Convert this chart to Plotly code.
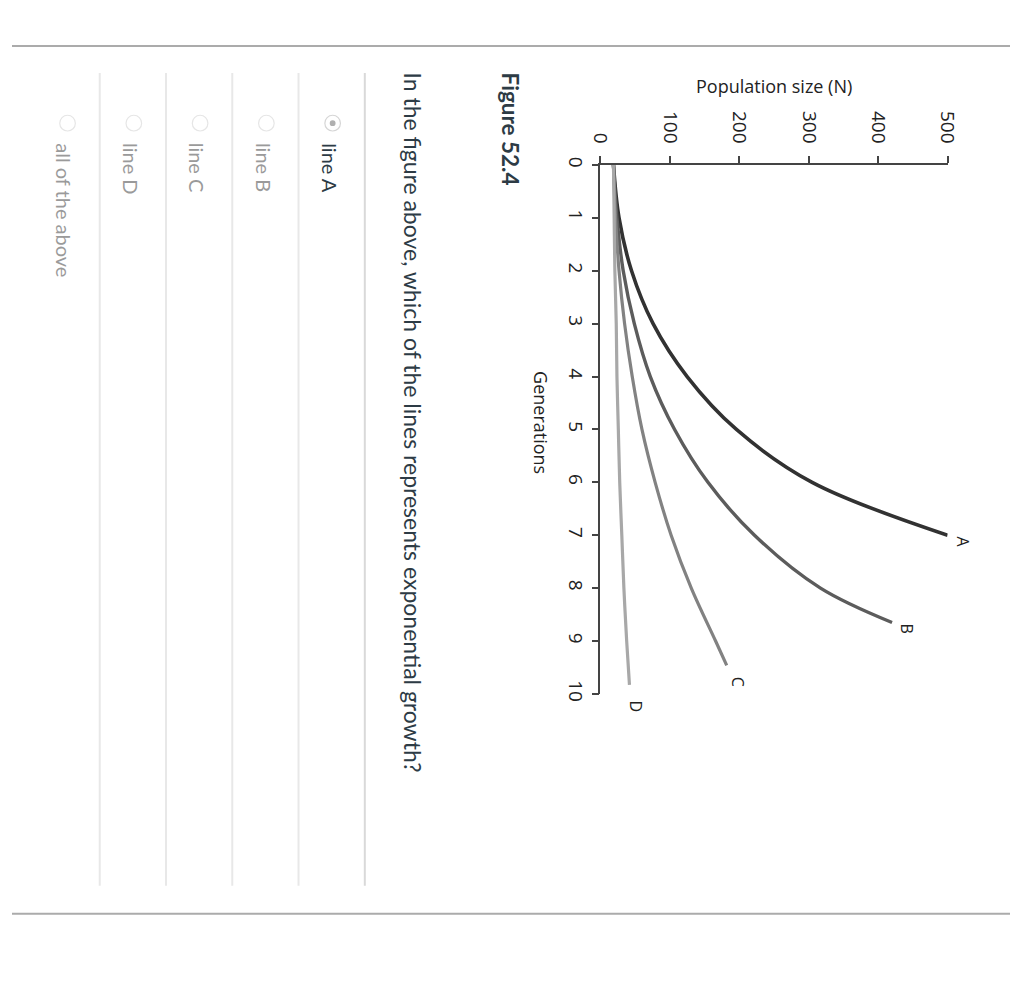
import plotly.graph_objects as go

W, H = 1024, 1006

# ---- data ----
gens_A = [0, 1, 2, 3, 4, 5, 6, 7]
pop_A = [19, 27, 45, 76, 125, 196, 305, 500]

gens_B = [0, 1, 2, 3, 4, 5, 6, 7, 8, 8.65]
pop_B = [19, 24, 33, 49, 72, 107, 155, 222, 317, 420]

gens_C = [0, 1, 2, 3, 4, 5, 6, 7, 8, 9, 9.46]
pop_C = [19, 22, 27, 35, 46, 60, 79, 102, 131, 166, 182]

gens_D = [0, 1, 2, 3, 4, 5, 6, 7, 8, 9, 9.83]
pop_D = [19, 20, 21, 23, 24, 26, 28, 31, 34, 38, 42]

series_names = ["A", "B", "C", "D"]
pop_ticks = [0, 100, 200, 300, 400, 500]
gen_ticks = [0, 1, 2, 3, 4, 5, 6, 7, 8, 9, 10]

figure_label = "Figure 52.4"
question = "In the figure above, which of the lines represents exponential growth?"
options = ["line A", "line B", "line C", "line D", "all of the above"]
selected = 0


def px(x):
    return x / W


def py(y):
    return 1 - y / H


colors = ["#323232", "#5c5c5c", "#828282", "#a8a8a8"]
widths = [3.6, 3.4, 3.2, 3.2]
label_shift = [(15, -7), (15, -6), (11, -16), (7, -22)]

fig = go.Figure()
all_series = [(gens_A, pop_A), (gens_B, pop_B), (gens_C, pop_C), (gens_D, pop_D)]
for name, (g, p), c, w in zip(series_names, all_series, colors, widths):
    fig.add_trace(go.Scatter(
        x=p, y=g, mode="lines", name=name,
        line=dict(color=c, width=w, shape="spline", smoothing=1.0),
        showlegend=False, hoverinfo="skip", cliponaxis=False,
    ))

annotations = []
for name, (g, p), (sx, sy) in zip(series_names, all_series, label_shift):
    annotations.append(dict(
        x=p[-1], y=g[-1], xref="x", yref="y", text=name, showarrow=False,
        xshift=sx, yshift=sy, textangle=90,
        font=dict(family="Open Sans", size=16, color="#222"),
    ))

chart_font = dict(family="Open Sans", size=18, color="#222")
annotations.append(dict(x=px(782), y=py(79), xref="paper", yref="paper",
                        text="Population size (N)", showarrow=False,
                        font=chart_font, xanchor="center", yanchor="middle"))
annotations.append(dict(x=px(542), y=py(421), xref="paper", yref="paper",
                        text="Generations", showarrow=False, textangle=90,
                        font=chart_font, xanchor="center", yanchor="middle"))

text_col = "#2d3b45"
annotations.append(dict(x=px(511), y=py(63), xref="paper", yref="paper",
                        text="<b>" + figure_label + "</b>", showarrow=False,
                        textangle=90, xanchor="center", yanchor="top",
                        font=dict(family="Lato", size=22.5, color=text_col)))
annotations.append(dict(x=px(411), y=py(63), xref="paper", yref="paper",
                        text=question, showarrow=False, textangle=90,
                        xanchor="center", yanchor="top",
                        font=dict(family="Lato", size=23, color=text_col)))

opt_x = [326, 258, 190, 122, 54]
for i, (t, ox) in enumerate(zip(options, opt_x)):
    annotations.append(dict(x=px(ox), y=py(135), xref="paper", yref="paper",
                            text=t, showarrow=False, textangle=90,
                            xanchor="center", yanchor="top",
                            font=dict(family="Lato", size=20,
                                      color=text_col if i == selected else "#9a9a9a")))

shapes = []
# horizontal rules
for yy in (38.5, 920.5):
    shapes.append(dict(type="line", xref="paper", yref="paper",
                       x0=0, x1=1, y0=py(yy), y1=py(yy),
                       line=dict(color="#ababab", width=2)))
# separators
sep_x = [362, 294, 226, 158, 90]
for i, sx in enumerate(sep_x):
    shapes.append(dict(type="line", xref="paper", yref="paper",
                       x0=px(sx), x1=px(sx), y0=py(66), y1=py(892),
                       line=dict(color="#d9d9d9" if i == 0 else "#e8e8e8", width=2)))
# radio buttons
rad_x = [329, 261, 193, 125, 57]
r = 8
for i, rx in enumerate(rad_x):
    shapes.append(dict(type="circle", xref="paper", yref="paper",
                       x0=px(rx - r), x1=px(rx + r), y0=py(117 + r), y1=py(117 - r),
                       line=dict(color="#d6d6d6" if i == selected else "#e6e6e6", width=1.2),
                       fillcolor="white"))
    if i == selected:
        rr = 3
        shapes.append(dict(type="circle", xref="paper", yref="paper",
                           x0=px(rx - rr), x1=px(rx + rr), y0=py(117 + rr), y1=py(117 - rr),
                           line=dict(color="#b0b0b0", width=0), fillcolor="#b0b0b0"))

axis_col = "#444"
fig.update_layout(
    width=W, height=H, autosize=False,
    margin=dict(l=0, r=0, t=0, b=0),
    paper_bgcolor="white", plot_bgcolor="white",
    annotations=annotations, shapes=shapes,
    xaxis=dict(domain=[px(603.6), px(960)], range=[0, 500], side="top",
               tickvals=pop_ticks, ticktext=[str(v) for v in pop_ticks],
               tickangle=90, ticks="outside", ticklen=7, tickwidth=1.5,
               tickcolor=axis_col, showline=True, linecolor=axis_col, linewidth=1.5,
               showgrid=False, zeroline=False, ticklabelstandoff=6,
               tickfont=dict(family="Open Sans", size=19, color="#222"),
               fixedrange=True),
    yaxis=dict(domain=[py(697), py(159.5)], range=[10, 0],
               tickvals=gen_ticks, ticktext=[str(v) for v in gen_ticks],
               tickangle=90, ticks="outside", ticklen=7, tickwidth=1.5,
               tickcolor=axis_col, showline=True, linecolor=axis_col, linewidth=1.5,
               showgrid=False, zeroline=False,
               tickfont=dict(family="Open Sans", size=19, color="#222"),
               fixedrange=True),
)

fig.write_html(
    "out.html",
    config={"displayModeBar": False, "responsive": False},
    post_script="document.body.style.margin='0';document.body.style.overflow='hidden';",
)
